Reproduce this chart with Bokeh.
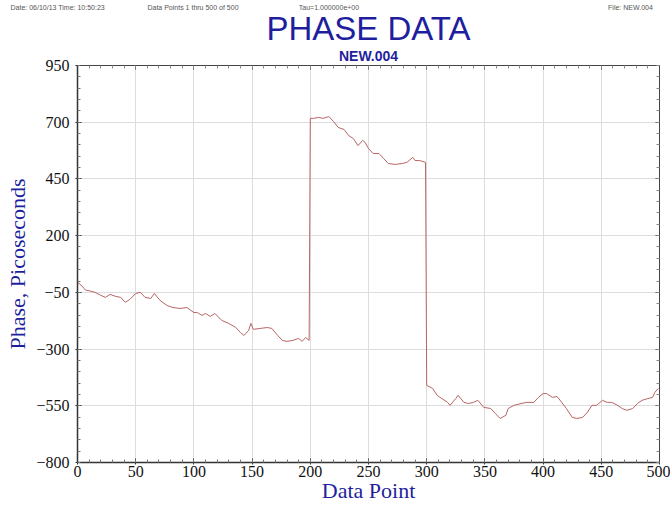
from bokeh.plotting import figure
from bokeh.models import Range1d, FixedTicker, LinearAxis, Title
from bokeh.embed import file_html
from bokeh.resources import INLINE

# ---- data ----
data_point = [0, 3, 7, 11, 15, 20, 24, 28, 33, 37, 41, 45, 50, 54, 58, 63, 66, 71, 77, 82, 88, 94,
              100, 103, 107, 110, 114, 118, 124, 130, 136, 140, 143, 147, 149, 151, 157, 163, 167,
              172, 176, 180, 185, 190, 193, 196, 199,
              200, 203, 207, 211, 216, 220, 224, 229, 233, 237, 241, 245, 247, 250, 254, 259, 263,
              267, 273, 279, 283, 288, 290, 294, 299,
              300, 305, 309, 313, 318, 320, 325, 327, 332, 336, 340, 344, 349, 355, 359, 363, 368,
              370, 375, 381, 386, 392, 396, 400, 403, 408, 412, 416, 420, 425, 429, 434, 438, 442,
              446, 451, 455, 459, 464, 468, 472, 477, 481, 485, 490, 494, 496, 499]
phase_ps = [-5, -18, -40, -44, -50, -63, -72, -59, -68, -72, -94, -81, -55, -50, -72, -77, -55, -86,
            -108, -117, -121, -117, -139, -139, -152, -143, -156, -143, -174, -187, -205, -227, -240,
            -218, -187, -213, -209, -205, -209, -240, -262, -266, -262, -253, -266, -249, -262,
            717, 717, 721, 717, 725, 703, 677, 668, 641, 628, 597, 620, 611, 584, 562, 562, 540,
            518, 514, 518, 523, 545, 531, 531, 523,
            -460, -473, -504, -518, -535, -548, -518, -504, -535, -540, -535, -526, -557, -562,
            -584, -606, -592, -562, -548, -540, -535, -535, -513, -496, -496, -513, -509, -535,
            -562, -601, -606, -601, -579, -548, -548, -526, -535, -535, -548, -562, -570, -562,
            -540, -526, -518, -513, -491, -473]
x_ticks = [0, 50, 100, 150, 200, 250, 300, 350, 400, 450, 500]
y_ticks = [-800, -550, -300, -50, 200, 450, 700, 950]

title_text = "PHASE DATA"
subtitle_text = "NEW.004"
header_texts = ["Date: 06/10/13  Time: 10:50:23", "Data Points 1 thru 500 of 500",
                "Tau=1.000000e+00", "File: NEW.004"]
header_gaps = [22, 31, 128]   # non-breaking-space counts between header items

BLUE = "#1f1f9e"
SERIF = "Liberation Serif"

p = figure(frame_width=582, frame_height=397, output_backend="svg", toolbar_location=None,
           x_range=Range1d(0, 500), y_range=Range1d(-800, 950),
           min_border_left=77, min_border_right=11, min_border_top=65, min_border_bottom=53,
           background_fill_color="white", border_fill_color="white")

p.line(data_point, phase_ps, line_color="#b86464", line_width=1)

p.outline_line_color = "#444444"
p.outline_line_width = 1

p.xgrid.ticker = FixedTicker(ticks=x_ticks)
p.ygrid.ticker = FixedTicker(ticks=y_ticks)
for g in (p.xgrid, p.ygrid):
    g.grid_line_color = "#dddddd"
    g.grid_line_width = 1

xa = p.xaxis[0]
xa.ticker = FixedTicker(ticks=x_ticks, minor_ticks=list(range(0, 501, 10)))
xa.axis_label = "Data Point"
ya = p.yaxis[0]
ya.ticker = FixedTicker(ticks=y_ticks, minor_ticks=list(range(-800, 951, 50)))
ya.axis_label = "Phase, Picoseconds"
for ax in (xa, ya):
    ax.axis_line_color = "#333333"
    ax.axis_line_width = 1.5
    ax.major_tick_line_color = "#333333"
    ax.minor_tick_line_color = "#777777"
    ax.major_tick_in = 4
    ax.major_tick_out = 2
    ax.minor_tick_in = 3
    ax.minor_tick_out = 0
    ax.major_label_text_font = SERIF
    ax.major_label_text_font_size = "16px"
    ax.major_label_text_color = "#111111"
    ax.axis_label_text_font = SERIF
    ax.axis_label_text_font_size = "22px"
    ax.axis_label_text_font_style = "normal"
    ax.axis_label_text_color = BLUE
xa.major_label_standoff = 1
xa.axis_label_standoff = -2
ya.major_label_standoff = 6
ya.axis_label_standoff = 3

# top / right axes: ticks only, labels replaced by empty strings
top = LinearAxis(ticker=FixedTicker(ticks=x_ticks, minor_ticks=list(range(0, 501, 10))),
                 major_label_overrides={t: "" for t in x_ticks})
right = LinearAxis(ticker=FixedTicker(ticks=y_ticks, minor_ticks=list(range(-800, 951, 50))),
                   major_label_overrides={t: "" for t in y_ticks})
for ax in (top, right):
    ax.major_label_text_font_size = "8px"
    ax.major_label_standoff = 0
    ax.axis_line_color = "#444444"
    ax.major_tick_line_color = "#555555"
    ax.minor_tick_line_color = "#888888"
    ax.major_tick_in = 4
    ax.major_tick_out = 0
    ax.minor_tick_in = 3
    ax.minor_tick_out = 0
p.add_layout(top, "above")
p.add_layout(right, "right")

p.add_layout(Title(text=subtitle_text, align="center", text_font="Liberation Sans",
                   text_font_size="14px", text_font_style="bold", text_color=BLUE,
                   standoff=4, offset=0), "above")
p.add_layout(Title(text=title_text, align="center", text_font="Liberation Sans",
                   text_font_size="33px", text_font_style="normal", text_color=BLUE,
                   standoff=-6, offset=0), "above")

NB = "\u00a0"
header_line = header_texts[0]
for gap, t in zip(header_gaps, header_texts[1:]):
    header_line += NB * gap + t
p.add_layout(Title(text=header_line, align="left", text_font="Liberation Sans",
                   text_font_size="7px", text_font_style="normal", text_color="#555555",
                   standoff=0, offset=-67), "above")

p.styles = {"outline": "1px solid #9a9a9a", "outline-offset": "-2px"}

open("out.html", "w").write(file_html(p, INLINE))
